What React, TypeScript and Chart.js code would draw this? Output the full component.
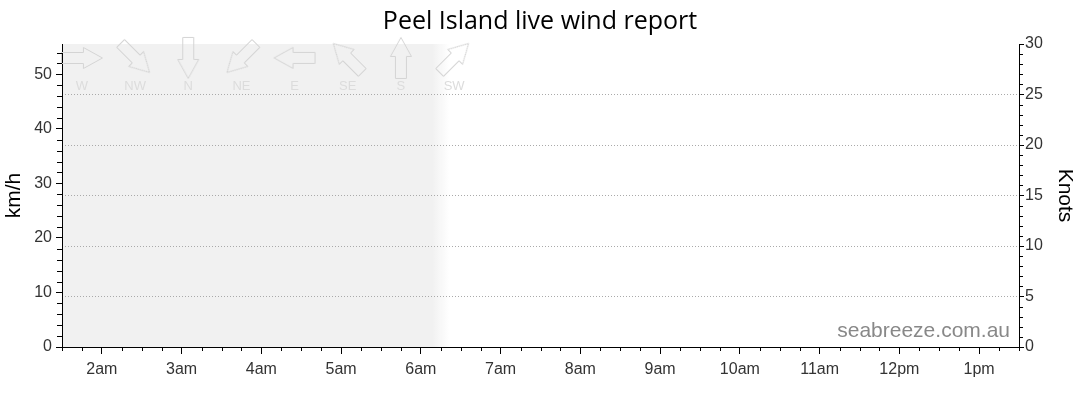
import React, { useEffect, useRef } from "react";
import { Chart, registerables } from "chart.js";

Chart.register(...registerables);

const TITLE = "Peel Island live wind report";
const HOUR_TICKS = [2, 3, 4, 5, 6, 7, 8, 9, 10, 11, 12, 13];
const HOUR_LABELS = ["2am", "3am", "4am", "5am", "6am", "7am", "8am", "9am", "10am", "11am", "12pm", "1pm"];
const X_MIN = 1.5;
const X_MAX = 13.5;
const KNOT_MAX = 30;
const KMH_PER_KNOT = 1.852;
const KMH_TICKS = [0, 10, 20, 30, 40, 50];
const KNOT_TICKS = [0, 5, 10, 15, 20, 25, 30];
const KNOT_GRID = [5, 10, 15, 20, 25];
const ARROW_TIMES = [1.75, 2.4167, 3.0833, 3.75, 4.4167, 5.0833, 5.75, 6.4167];
const ARROW_LABELS = ["W", "NW", "N", "NE", "E", "SE", "S", "SW"];
const ARROW_ROTATIONS = [0, 45, 90, 135, 180, 225, 270, 315];
const ARROW_LEVEL_KMH = 53;
const ARROW_LABEL_KMH = 47.7;
const SHADE_SOLID_END = 6.15;
const SHADE_FADE_END = 6.35;
const WATERMARK = "seabreeze.com.au";

function makeArrow(): HTMLCanvasElement {
  const c = document.createElement("canvas");
  c.width = 44;
  c.height = 24;
  const g = c.getContext("2d")!;
  g.strokeStyle = "#d4d4d4";
  g.lineWidth = 1;
  g.beginPath();
  g.moveTo(1.5, 6.5);
  g.lineTo(23.5, 6.5);
  g.lineTo(23.5, 1.5);
  g.lineTo(42.5, 12);
  g.lineTo(23.5, 22.5);
  g.lineTo(23.5, 17.5);
  g.lineTo(1.5, 17.5);
  g.closePath();
  g.stroke();
  return c;
}

const extrasPlugin = {
  id: "extras",
  beforeDraw(chart: any) {
    const { ctx, chartArea, scales } = chart;
    const x = scales.x;
    const xs = x.getPixelForValue(SHADE_SOLID_END);
    const xe = x.getPixelForValue(SHADE_FADE_END);
    ctx.save();
    const grad = ctx.createLinearGradient(xs, 0, xe, 0);
    grad.addColorStop(0, "rgba(241,241,241,1)");
    grad.addColorStop(1, "rgba(241,241,241,0)");
    ctx.fillStyle = grad;
    ctx.fillRect(chartArea.left, chartArea.top, xe - chartArea.left, chartArea.bottom - chartArea.top);
    ctx.restore();
  },
  afterDraw(chart: any) {
    const { ctx, chartArea, scales } = chart;
    const x = scales.x;
    const y = scales.y;
    const y2 = scales.y2;
    ctx.save();
    ctx.strokeStyle = "#000";
    ctx.lineWidth = 1;
    ctx.beginPath();
    for (let v = X_MIN; v <= X_MAX + 1e-6; v += 0.25) {
      if (Math.abs(v - Math.round(v)) < 1e-6) continue;
      const px = Math.round(x.getPixelForValue(v)) + 0.5;
      ctx.moveTo(px, chartArea.bottom);
      ctx.lineTo(px, chartArea.bottom + 4);
    }
    for (let v = 2; v <= KNOT_MAX * KMH_PER_KNOT; v += 2) {
      if (v % 10 === 0) continue;
      const py = Math.round(y.getPixelForValue(v)) + 0.5;
      ctx.moveTo(chartArea.left - 5, py);
      ctx.lineTo(chartArea.left, py);
    }
    for (let v = 1; v < KNOT_MAX; v += 1) {
      if (v % 5 === 0) continue;
      const py = Math.round(y2.getPixelForValue(v)) + 0.5;
      ctx.moveTo(chartArea.right, py);
      ctx.lineTo(chartArea.right + 4, py);
    }
    ctx.stroke();

    ctx.fillStyle = "#dcdcdc";
    ctx.font = '13px "Liberation Sans", Arial, sans-serif';
    ctx.textAlign = "center";
    ctx.textBaseline = "middle";
    const ly = y.getPixelForValue(ARROW_LABEL_KMH);
    ARROW_TIMES.forEach((t, i) => {
      ctx.fillText(ARROW_LABELS[i], x.getPixelForValue(t), ly);
    });

    ctx.fillStyle = "#888";
    ctx.font = '21px "Liberation Sans", Arial, sans-serif';
    ctx.textAlign = "right";
    ctx.textBaseline = "alphabetic";
    ctx.fillText(WATERMARK, chartArea.right - 9, chartArea.bottom - 10);
    ctx.restore();
  },
};

export default function App() {
  const ref = useRef<HTMLCanvasElement | null>(null);
  useEffect(() => {
    document.body.style.margin = "0";
    const canvas = ref.current!;
    Chart.defaults.font.family = '"Liberation Sans", Arial, sans-serif';
    const arrow = makeArrow();
    const chart = new Chart(canvas, {
      type: "scatter",
      data: {
        datasets: [
          {
            data: ARROW_TIMES.map((t) => ({ x: t, y: ARROW_LEVEL_KMH })),
            yAxisID: "y",
            pointStyle: arrow as any,
            pointRotation: ARROW_ROTATIONS,
            showLine: false,
            clip: false,
          } as any,
        ],
      },
      options: {
        animation: false,
        responsive: false,
        devicePixelRatio: 1,
        layout: { padding: 0 },
        plugins: {
          legend: { display: false },
          tooltip: { enabled: false },
          title: {
            display: true,
            text: TITLE,
            color: "#000",
            font: { family: '"Open Sans", sans-serif', size: 25, weight: "normal", lineHeight: 1.2 },
            padding: { top: 7, bottom: 7 },
          },
        },
        scales: {
          x: {
            type: "linear",
            min: X_MIN,
            max: X_MAX,
            afterBuildTicks: (s: any) => {
              s.ticks = HOUR_TICKS.map((v) => ({ value: v }));
            },
            afterFit: (s: any) => {
              s.height = 67;
            },
            ticks: {
              autoSkip: false,
              maxRotation: 0,
              color: "#333",
              font: { size: 16 },
              padding: 6,
              callback: (v: any) => HOUR_LABELS[HOUR_TICKS.indexOf(Number(v))] ?? "",
            },
            grid: { drawOnChartArea: false, tickLength: 7, tickColor: "#000" },
            border: { color: "#000", width: 1 },
          },
          y: {
            position: "left",
            min: 0,
            max: KNOT_MAX * KMH_PER_KNOT,
            afterBuildTicks: (s: any) => {
              s.ticks = KMH_TICKS.map((v) => ({ value: v }));
            },
            afterFit: (s: any) => {
              s.width = 62;
            },
            ticks: { color: "#333", font: { size: 16 }, padding: 4 },
            grid: { drawOnChartArea: false, tickLength: 6, tickColor: "#000" },
            border: { color: "#000", width: 1 },
            title: {
              display: true,
              text: "km/h",
              color: "#000",
              font: { size: 21 },
              padding: { top: 2, bottom: 0 },
            },
          },
          y2: {
            position: "right",
            min: 0,
            max: KNOT_MAX,
            afterBuildTicks: (s: any) => {
              s.ticks = KNOT_TICKS.map((v) => ({ value: v }));
            },
            afterFit: (s: any) => {
              s.width = 61;
            },
            ticks: { color: "#333", font: { size: 16 }, padding: 1 },
            grid: {
              color: (c: any) => (c.tick && KNOT_GRID.includes(c.tick.value) ? "#aaa" : "rgba(0,0,0,0)"),
              tickColor: "#000",
              tickLength: 5,
              tickBorderDash: [],
            },
            border: { color: "#000", width: 1, dash: [1, 2] },
            title: {
              display: true,
              text: "Knots",
              color: "#000",
              font: { size: 21 },
              padding: { top: 3, bottom: 0 },
            },
          },
        },
      } as any,
      plugins: [extrasPlugin],
    });
    return () => chart.destroy();
  }, []);
  return (
    <div style={{ width: 1080, height: 414 }}>
      <canvas ref={ref} width={1080} height={414} style={{ display: "block" }} />
    </div>
  );
}
